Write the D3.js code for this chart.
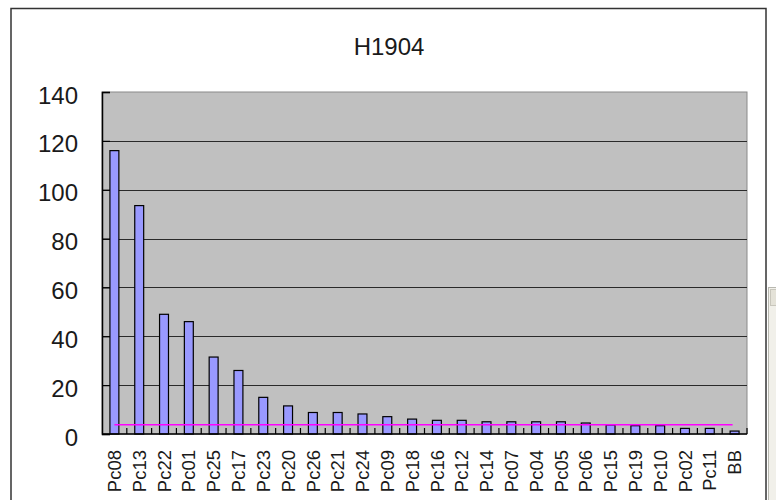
<!DOCTYPE html>
<html>
<head>
<meta charset="utf-8">
<script src="https://cdn.jsdelivr.net/npm/d3@7"></script>
<style>
  body { margin: 0; background: #ffffff; }
  text { font-family: "Liberation Sans", Arial, sans-serif; }
</style>
</head>
<body>
<div id="chart"></div>
<script>
// Chart data
let categories = ["Pc08", "Pc13", "Pc22", "Pc01", "Pc25", "Pc17", "Pc23", "Pc20", "Pc26", "Pc21",
    "Pc24", "Pc09", "Pc18", "Pc16", "Pc12", "Pc14", "Pc07", "Pc04", "Pc05", "Pc06",
    "Pc15", "Pc19", "Pc10", "Pc02", "Pc11", "BB"];
let counts = [116, 93.5, 49, 46, 31.5, 26, 15, 11.5, 8.8, 8.8,
    8.2, 7.1, 6.1, 5.6, 5.6, 5.0, 5.0, 5.0, 5.0, 4.5,
    3.7, 3.4, 3.4, 2.3, 2.3, 1.2];
let yTicks = [0, 20, 40, 60, 80, 100, 120, 140];
let cutoffValue = 3.8;
let chartTitle = "H1904";

let svgWidth = 776;
let svgHeight = 500;

let svg = d3.select("#chart")
    .append("svg")
    .attr("width", svgWidth)
    .attr("height", svgHeight);

// Outer chart frame
svg.append("rect")
    .attr("x", 11)
    .attr("y", 8.5)
    .attr("width", 755)
    .attr("height", 510)
    .attr("fill", "#ffffff")
    .attr("stroke", "#333333")
    .attr("stroke-width", 1.5);

// bit of window scrollbar peeking in on the right
svg.append("rect")
    .attr("x", 768.5)
    .attr("y", 287.5)
    .attr("width", 10)
    .attr("height", 220)
    .attr("fill", "#f1f0ea")
    .attr("stroke", "#b8b8b0");
svg.append("rect")
    .attr("x", 770.5)
    .attr("y", 289.5)
    .attr("width", 8)
    .attr("height", 16)
    .attr("fill", "#e4e2d8")
    .attr("stroke", "#c8c6bc");

let plot = { left: 102, right: 747, top: 92, bottom: 434 };

let xScale = d3.scaleBand()
    .domain(categories)
    .range([plot.left, plot.right])
    .paddingInner(0.64)
    .paddingOuter(0.32);

let yScale = d3.scaleLinear()
    .domain([0, 140])
    .range([plot.bottom, plot.top]);

// Plot background
svg.append("rect")
    .attr("x", plot.left)
    .attr("y", plot.top)
    .attr("width", plot.right - plot.left)
    .attr("height", plot.bottom - plot.top)
    .attr("fill", "#c0c0c0")
    .attr("stroke", "#8a8a8a");

// Gridlines
svg.append("g")
    .selectAll("line")
    .data(yTicks.filter(t => t > 0 && t < 140))
    .enter()
    .append("line")
    .attr("x1", plot.left)
    .attr("x2", plot.right)
    .attr("y1", d => Math.round(yScale(d)) + 0.5)
    .attr("y2", d => Math.round(yScale(d)) + 0.5)
    .attr("stroke", "#2a2a2a")
    .attr("stroke-width", 1.2);

// Bars
svg.append("g")
    .selectAll("rect")
    .data(counts)
    .enter()
    .append("rect")
    .attr("x", (d, i) => xScale(categories[i]))
    .attr("y", d => yScale(d))
    .attr("width", xScale.bandwidth())
    .attr("height", d => yScale(0) - yScale(d))
    .attr("fill", "#9999ff")
    .attr("stroke", "#000000")
    .attr("stroke-width", 1.2);

// Cutoff line across the categories
let firstX = xScale(categories[0]) + xScale.bandwidth() / 2;
let lastX = xScale(categories[categories.length - 1]) + xScale.bandwidth() / 2;
svg.append("line")
    .attr("x1", firstX)
    .attr("x2", lastX - 2)
    .attr("y1", yScale(cutoffValue))
    .attr("y2", yScale(cutoffValue))
    .attr("stroke", "#ff00ff")
    .attr("stroke-width", 1.6);

// Y axis, ticks pointing in
let yAxis = d3.axisRight(yScale)
    .tickValues(yTicks)
    .tickSize(8)
    .tickFormat("");
svg.append("g")
    .attr("transform", `translate(${plot.left}, 0)`)
    .call(yAxis)
    .call(g => g.select(".domain").attr("stroke", "#000").attr("stroke-width", 1.5))
    .call(g => g.selectAll(".tick line").attr("stroke", "#000").attr("stroke-width", 1.2));

svg.append("g")
    .selectAll("text")
    .data(yTicks)
    .enter()
    .append("text")
    .attr("x", 78)
    .attr("y", d => yScale(d))
    .attr("dy", "0.48em")
    .attr("text-anchor", "end")
    .attr("font-size", "24px")
    .attr("fill", "#1a1a1a")
    .text(d => d);

// X axis line and in-pointing tick marks between categories
let step = xScale.step();
let boundaries = d3.range(1, categories.length + 1).map(i => plot.left + i * step);

svg.append("line")
    .attr("x1", plot.left)
    .attr("x2", plot.right)
    .attr("y1", plot.bottom)
    .attr("y2", plot.bottom)
    .attr("stroke", "#000")
    .attr("stroke-width", 1.5);

svg.append("g")
    .selectAll("line")
    .data(boundaries)
    .enter()
    .append("line")
    .attr("x1", d => d)
    .attr("x2", d => d)
    .attr("y1", plot.bottom)
    .attr("y2", plot.bottom - 6)
    .attr("stroke", "#000")
    .attr("stroke-width", 1.2);

// Category labels, rotated
svg.append("g")
    .selectAll("text")
    .data(categories)
    .enter()
    .append("text")
    .attr("transform", d => `translate(${xScale(d) + xScale.bandwidth() / 2}, ${plot.bottom + 16}) rotate(-90)`)
    .attr("dy", "0.36em")
    .attr("text-anchor", "end")
    .attr("font-size", "18.5px")
    .attr("fill", "#1a1a1a")
    .text(d => d);

// Title
svg.append("text")
    .attr("x", 389)
    .attr("y", 55)
    .attr("text-anchor", "middle")
    .attr("font-size", "24px")
    .attr("fill", "#1a1a1a")
    .text(chartTitle);
</script>
</body>
</html>
